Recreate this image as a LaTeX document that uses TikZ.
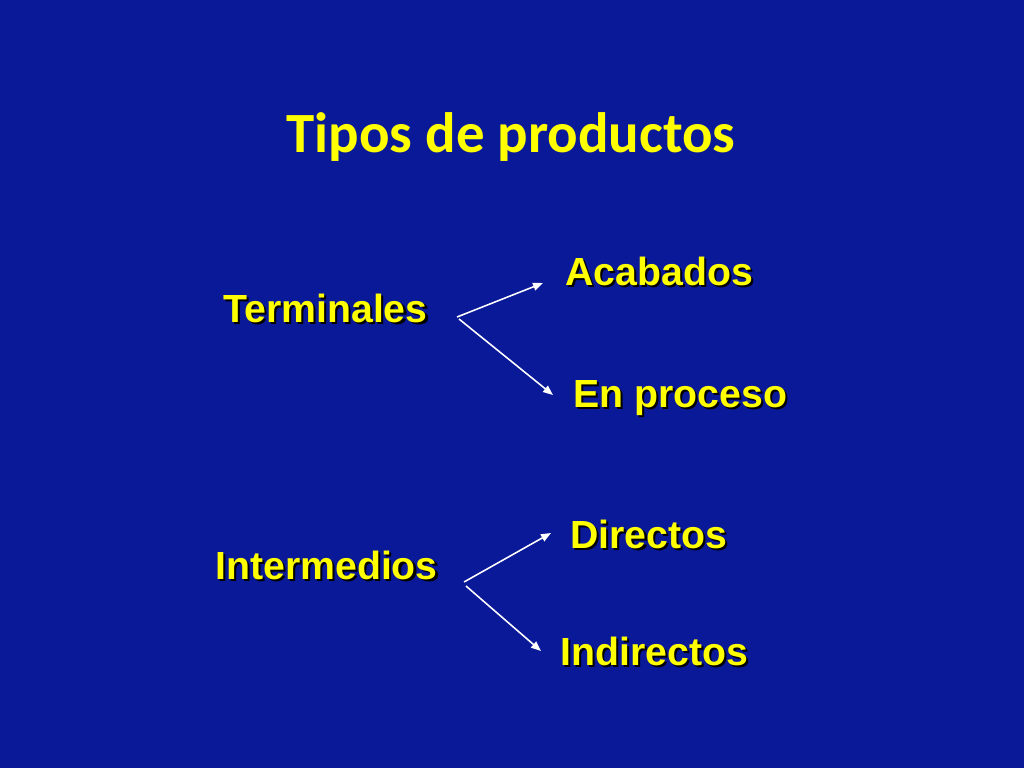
\documentclass[tikz,border=0pt]{standalone}
\usepackage{fontspec}
\setmainfont{Liberation Sans}
\newfontfamily\titlefont{Carlito}
\usetikzlibrary{arrows.meta,positioning}
\definecolor{slideblue}{RGB}{9,25,152}
\definecolor{slideyellow}{RGB}{255,255,0}
\newcommand{\shadowed}[1]{\leavevmode\rlap{\hspace{1.6pt}\raisebox{-1.6pt}{\color{black}#1}}#1}
\tikzset{
  item/.style={anchor=base west, inner sep=0pt, text=slideyellow,
    font=\bfseries\fontsize{27.6}{33}\selectfont},
  branch/.style={draw=white, line width=1.1pt, -{Triangle[length=7pt,width=5.5pt]}}
}

\begin{document}
\begin{tikzpicture}[x=0.7031pt,y=-0.7031pt]
    % Background
    \fill[slideblue] (0,0) rectangle (1024,768);
    % Title
    \node[anchor=base, inner sep=0pt, text=slideyellow,
      font=\titlefont\bfseries\fontsize{40}{48}\selectfont] (title) at (511,152) {Tipos de productos};
    % Terminales
    \node[item] (term) at (223,322) {\shadowed{Terminales}};
    \node[item] (acab) at (565,285) {\shadowed{Acabados}};
    \node[item] (proc) at (573,407) {\shadowed{En proceso}};
    % Intermedios
    \node[item] (inter) at (215,579) {\shadowed{Intermedios}};
    \node[item] (dir) at (570,548) {\shadowed{Directos}};
    \node[item] (indir) at (560,665) {\shadowed{Indirectos}};
    % Arrow ends
    \coordinate (termA) at (457,317);
    \coordinate (termB) at (459,319);
    \coordinate (acabE) at (543,283);
    \coordinate (procE) at (553,395);
    \coordinate (interA) at (464,582);
    \coordinate (interB) at (466,586);
    \coordinate (dirE) at (551,533);
    \coordinate (indirE) at (541,651);
    \draw[branch] (termA) -- (acabE);
    \draw[branch] (termB) -- (procE);
    \draw[branch] (interA) -- (dirE);
    \draw[branch] (interB) -- (indirE);
\end{tikzpicture}
\end{document}
